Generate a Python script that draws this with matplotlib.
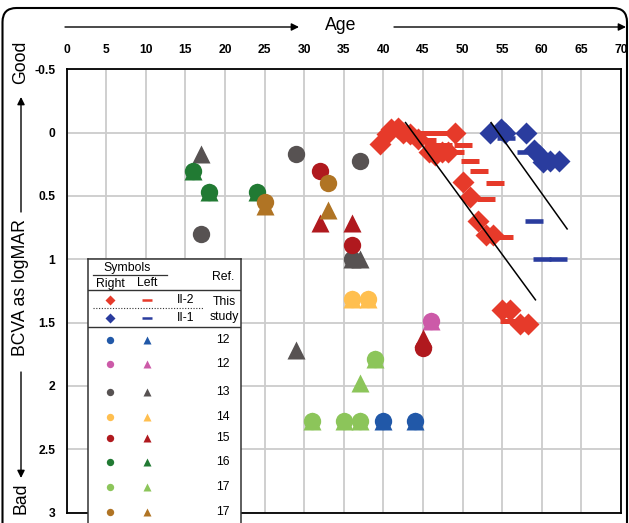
import matplotlib.pyplot as plt
import matplotlib.patches as mpatches
from matplotlib.transforms import IdentityTransform

plt.rcParams['font.family'] = ['Liberation Sans', 'DejaVu Sans']

# ---- this study: II-2 (red) and II-1 (blue), right eye = diamond, left eye = dash
ii2_right_age = [39.6, 40.4, 41.0, 41.9, 42.5, 43.4, 44.4, 45.7, 46.5, 47.4, 48.2, 49.1,
                 50.1, 51.0, 52.0, 52.9, 53.9, 55.0, 56.0, 57.3, 58.2]
ii2_right_val = [0.09, 0.01, -0.03, -0.04, 0.00, 0.01, 0.05, 0.155, 0.18, 0.155, 0.155, 0.00,
                 0.39, 0.51, 0.70, 0.81, 0.81, 1.40, 1.40, 1.51, 1.51]
ii2_left_age = [45.0, 47.2, 45.5, 46.3, 47.5, 50.0, 49.1, 51.0, 52.1, 54.1, 53.0, 55.2, 55.8, 58.0]
ii2_left_val = [0.00, 0.00, 0.06, 0.10, 0.10, 0.10, 0.155, 0.225, 0.30, 0.40, 0.52, 0.82, 1.49, 1.51]

ii1_right_age = [53.5, 54.8, 55.4, 58.0, 59.0, 59.6, 60.1, 61.1, 62.2]
ii1_right_val = [0.00, -0.03, 0.00, 0.00, 0.14, 0.18, 0.23, 0.22, 0.22]
ii1_left_age = [54.0, 55.5, 58.0, 59.0, 60.0, 62.0]
ii1_left_val = [0.00, 0.04, 0.155, 0.70, 1.00, 1.00]

# trend lines
trend_a_age = [42.8, 59.2]
trend_a_val = [-0.08, 1.32]
trend_b_age = [53.6, 63.2]
trend_b_val = [-0.08, 0.76]

# ---- reported cases, right eye = circle, left eye = triangle
ref_labels = ['12', '12', '13', '14', '15', '16', '17', '17']
ref_colors = ['#2158a8', '#cc5aa8', '#575252', '#ffbf4f', '#b0191e', '#217a33', '#8cc55a', '#b07424']
ref_right_age = [[40, 44], [46], [17, 29, 37, 36], [36, 38], [32, 36, 45], [16, 18, 24],
                 [39, 31, 35, 37], [25, 33]]
ref_right_val = [[2.28, 2.28], [1.49], [0.80, 0.17, 0.22, 1.0], [1.31, 1.31], [0.30, 0.89, 1.70],
                 [0.30, 0.47, 0.47], [1.79, 2.28, 2.28, 2.28], [0.55, 0.40]]
ref_left_age = [[40, 44], [46], [17, 36, 37, 29], [36, 38], [32, 36, 45], [16, 18, 24],
                [39, 37, 31, 35, 37], [25, 33]]
ref_left_val = [[2.28, 2.28], [1.49], [0.17, 1.0, 1.0, 1.72], [1.31, 1.31], [0.71, 0.71, 1.62],
                [0.30, 0.47, 0.47], [1.79, 1.98, 2.28, 2.28, 2.28], [0.58, 0.61]]

red = '#e63a2a'
blue = '#2a3c9e'

W, H = 629, 523
fig = plt.figure(figsize=(W / 100, H / 100), dpi=100)

# rounded outer frame
frame = mpatches.FancyBboxPatch((2.5, -30), 624.5, H - 8 + 30,
                                boxstyle='round,pad=0,rounding_size=14',
                                transform=IdentityTransform(), fill=False,
                                edgecolor='black', lw=1.5)
fig.patches.append(frame)

left, right, top, bottom = 66.5, 621, 69.4, 512.5
ax = fig.add_axes([left / W, 1 - bottom / H, (right - left) / W, (bottom - top) / H])
ax.set_xlim(0, 70)
ax.set_ylim(3, -0.5)
ax.set_xticks(range(0, 71, 5))
ax.set_yticks([-0.5, 0, 0.5, 1, 1.5, 2, 2.5, 3])
ax.set_yticklabels(['-0.5', '0', '0.5', '1', '1.5', '2', '2.5', '3'])
ax.xaxis.tick_top()
ax.tick_params(axis='x', length=0, pad=9.5, labelsize=8.7)
ax.tick_params(axis='y', length=0, pad=8, labelsize=8.7)
for lab in ax.get_xticklabels() + ax.get_yticklabels():
    lab.set_fontweight('bold')
ax.grid(True, color='#cccccc', lw=1.3)
ax.set_axisbelow(True)
for s in ax.spines.values():
    s.set_linewidth(1.3)
    s.set_color('black')

# reported cases
for col, ra, rv, la, lv in zip(ref_colors, ref_right_age, ref_right_val, ref_left_age, ref_left_val):
    ax.plot(la, lv, ls='none', marker='^', ms=12.5, color=col, mec='none', zorder=3)
    ax.plot(ra, rv, ls='none', marker='o', ms=12.5, color=col, mec='none', zorder=3)

# this study
ax.plot(ii2_left_age, ii2_left_val, ls='none', marker='_', ms=13.5, mew=3.6, color=red, zorder=3)
ax.plot(ii2_right_age, ii2_right_val, ls='none', marker='D', ms=11, color=red, mec='none', zorder=3)
ax.plot(ii1_left_age, ii1_left_val, ls='none', marker='_', ms=13.5, mew=3.3, color=blue, zorder=3)
ax.plot(ii1_right_age, ii1_right_val, ls='none', marker='D', ms=11, color=blue, mec='none', zorder=3)

ax.plot(trend_a_age, trend_a_val, color='black', lw=1.1, zorder=5)
ax.plot(trend_b_age, trend_b_val, color='black', lw=1.1, zorder=5)


def px(x, y):
    return (x / W, 1 - y / H)


arrow = dict(arrowstyle='-|>', color='black', lw=1.0, mutation_scale=11, shrinkA=0, shrinkB=0)

# top "Age" header
fig.text(*px(341, 26), 'Age', ha='center', va='center', fontsize=12.7)
fig.add_artist(mpatches.FancyArrowPatch(px(65, 27), px(299, 27), transform=fig.transFigure, **arrow))
fig.add_artist(mpatches.FancyArrowPatch(px(394, 27), px(626, 27), transform=fig.transFigure, **arrow))

# left axis title
fig.text(*px(21, 62.5), 'Good', ha='center', va='center', rotation=90, fontsize=12.7)
fig.text(*px(21, 287.5), 'BCVA as logMAR', ha='center', va='center', rotation=90, fontsize=12.7)
fig.text(*px(21, 498), 'Bad', ha='center', va='center', rotation=90, fontsize=12.7)
fig.add_artist(mpatches.FancyArrowPatch(px(21, 212), px(21, 97), transform=fig.transFigure, **arrow))
fig.add_artist(mpatches.FancyArrowPatch(px(21, 372), px(21, 478), transform=fig.transFigure, **arrow))

# ---- legend table
lx0, lx1, ly0 = 88, 241, 259
lax = fig.add_axes([lx0 / W, 0, (lx1 - lx0) / W, (H - ly0) / H])
lax.set_xlim(lx0, lx1)
lax.set_ylim(H, ly0)
lax.set_xticks([])
lax.set_yticks([])
lax.set_facecolor('white')
lax.spines['bottom'].set_visible(False)
for s in ['left', 'right', 'top']:
    lax.spines[s].set_linewidth(1.1)
    lax.spines[s].set_color('#333333')
lax.set_zorder(6)

fs = 8.8
lax.text(126.7, 267.5, 'Symbols', ha='center', va='center', fontsize=fs)
lax.plot([93, 167], [274.5, 274.5], color='#333333', lw=0.9)
lax.text(110, 283.5, 'Right', ha='center', va='center', fontsize=fs)
lax.text(146.7, 283.5, 'Left', ha='center', va='center', fontsize=fs)
lax.text(223.3, 276.7, 'Ref.', ha='center', va='center', fontsize=fs)
lax.plot([lx0, lx1], [290, 290], color='#333333', lw=1.0)

lax.plot([110], [300], marker='D', ms=4.6, color=red, mec='none', clip_on=False)
lax.plot([146.7], [300], marker='_', ms=6.5, mew=1.8, color=red, clip_on=False)
lax.text(186, 300, 'II-2', ha='center', va='center', fontsize=fs)
lax.plot([93, 203], [307.7, 307.7], color='#333333', lw=0.8, ls=(0, (1, 1.5)))
lax.plot([110], [318.3], marker='D', ms=4.6, color=blue, mec='none', clip_on=False)
lax.plot([146.7], [318.3], marker='_', ms=6.5, mew=1.8, color=blue, clip_on=False)
lax.text(186, 318.3, 'II-1', ha='center', va='center', fontsize=fs)
lax.text(224.3, 302.3, 'This', ha='center', va='center', fontsize=fs)
lax.text(224.3, 317, 'study', ha='center', va='center', fontsize=fs)
lax.plot([lx0, lx1], [326.7, 326.7], color='#333333', lw=1.0)

row_y = [340, 364.3, 391.7, 416.7, 438.3, 462.3, 486.7, 511.7]
for yy, col, lab in zip(row_y, ref_colors, ref_labels):
    lax.plot([110], [yy], marker='o', ms=5.3, color=col, mec='none', clip_on=False)
    lax.plot([146.7], [yy], marker='^', ms=6.3, color=col, mec='none', clip_on=False)
    lax.text(223.3, yy, lab, ha='center', va='center', fontsize=fs)

fig.savefig('out.png', dpi=100)
